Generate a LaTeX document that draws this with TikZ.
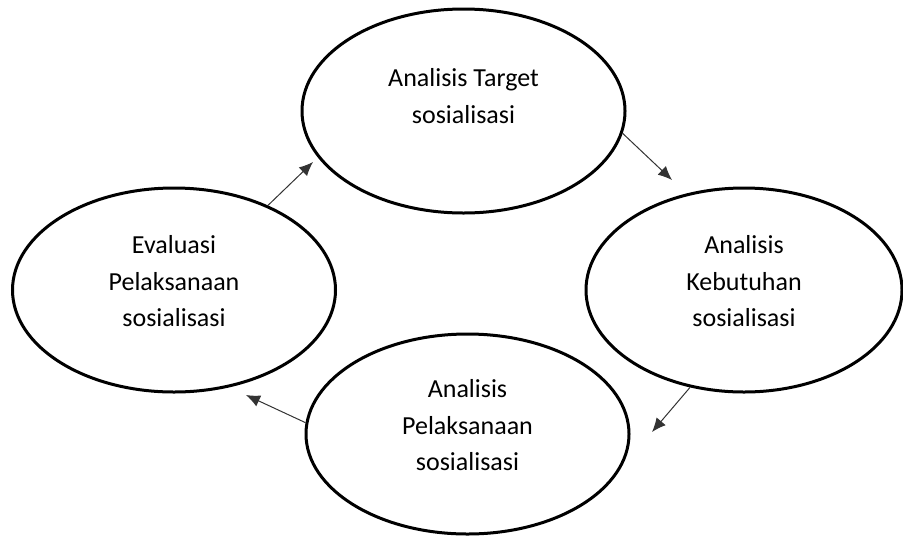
\documentclass[tikz,border=0pt]{standalone}
\usepackage{fontspec}
\setmainfont{Carlito}
\usepackage{tikz}
\usetikzlibrary{shapes.geometric,arrows.meta}

\begin{document}
\begin{tikzpicture}[x=0.5pt,y=-0.5pt,>={Latex[length=7pt,width=6pt]}]
	\tikzstyle{stage}=[ellipse,draw=black,line width=1.5pt,
	minimum width=161.5pt,
	minimum height=102pt,
	inner sep=2pt,
	align=center,
	font=\fontsize{13}{18.25}\selectfont,
	text depth=8.8pt
	]
	\tikzstyle{flow}=[->,draw=black!80,line width=0.5pt];

\useasboundingbox (0,0) rectangle (903,536);

\node[stage,text depth=14.8pt](target) at (463.5,111){Analisis Target\\sosialisasi};
\node[stage,minimum width=158pt](needs) at (744,290){Analisis\\Kebutuhan\\sosialisasi};
\node[stage,minimum height=100pt](impl) at (467.5,434){Analisis\\Pelaksanaan\\sosialisasi};
\node[stage](eval) at (174,290){Evaluasi\\Pelaksanaan\\sosialisasi};

% arrow tips
\coordinate (t1) at (672,180);
\coordinate (t2) at (652,432);
\coordinate (t3) at (246,395);
\coordinate (t4) at (313,162);

\draw[flow] (target.-8) -- (t1);
\draw[flow] (needs.-119) -- (t2);
\draw[flow] (impl.176) -- (t3);
\draw[flow] (eval.42) -- (t4);

\end{tikzpicture}
\end{document}
